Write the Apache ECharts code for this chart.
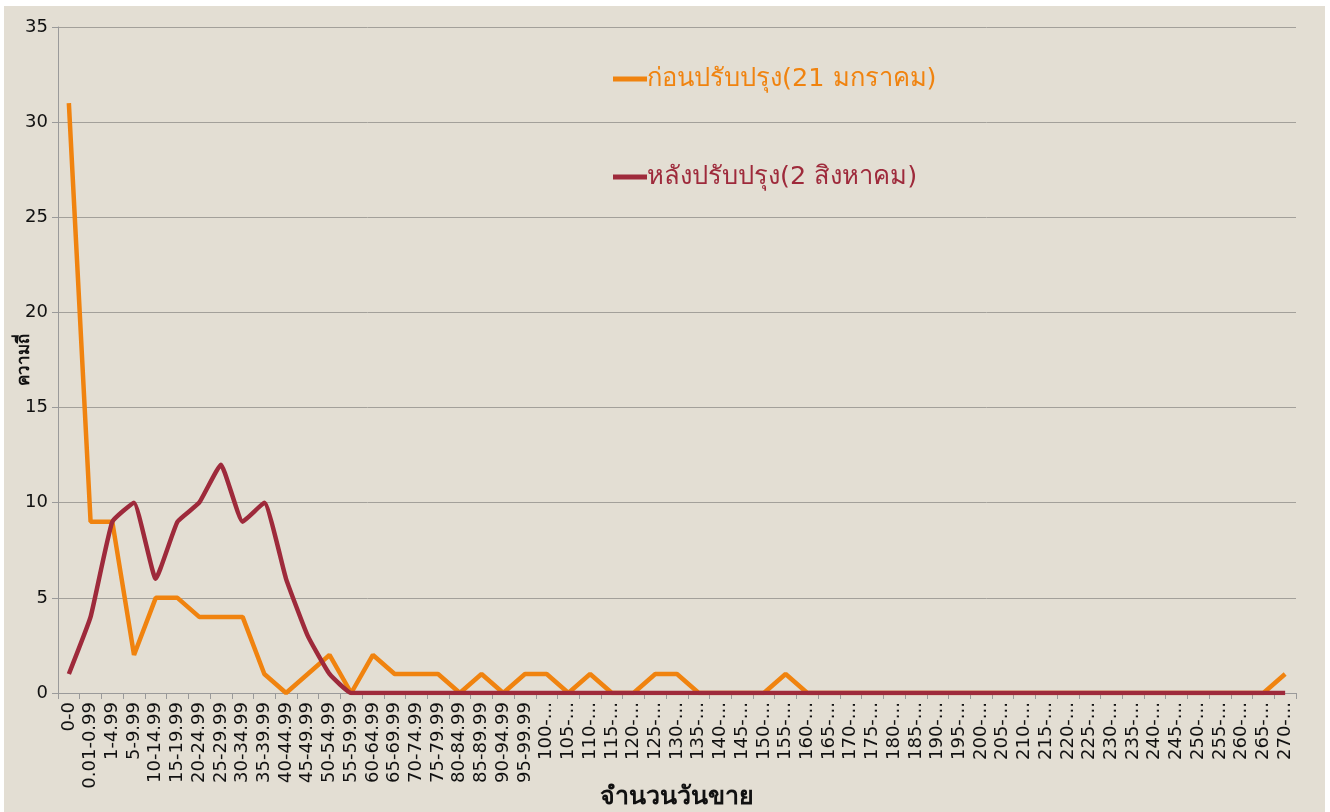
<!DOCTYPE html>
<html>
<head>
<meta charset="utf-8">
<script src="https://cdn.jsdelivr.net/npm/echarts@6/dist/echarts.min.js"></script>
<style>
	html, body { margin: 0; padding: 0; background: #fff; }
	#chart { position: absolute; left: 4px; top: 6px; width: 1321px; height: 806px; background: #e3ded3; }
</style>
</head>
<body>
<div id="chart"></div>
<script>
var categories = ['0-0', '0.01-0.99', '1-4.99', '5-9.99', '10-14.99', '15-19.99', '20-24.99', '25-29.99',
	'30-34.99', '35-39.99', '40-44.99', '45-49.99', '50-54.99', '55-59.99', '60-64.99', '65-69.99',
	'70-74.99', '75-79.99', '80-84.99', '85-89.99', '90-94.99', '95-99.99', '100-...', '105-...',
	'110-...', '115-...', '120-...', '125-...', '130-...', '135-...', '140-...', '145-...', '150-...',
	'155-...', '160-...', '165-...', '170-...', '175-...', '180-...', '185-...', '190-...', '195-...',
	'200-...', '205-...', '210-...', '215-...', '220-...', '225-...', '230-...', '235-...', '240-...',
	'245-...', '250-...', '255-...', '260-...', '265-...', '270-...'];

var beforeName = 'ก่อนปรับปรุง(21 มกราคม)';
var afterName = 'หลังปรับปรุง(2 สิงหาคม)';

var beforeValues = [31, 9, 9, 2, 5, 5, 4, 4, 4, 1, 0, 1, 2, 0, 2, 1, 1, 1, 0, 1, 0, 1, 1, 0,
	1, 0, 0, 1, 1, 0, 0, 0, 0, 1, 0, 0, 0, 0, 0, 0, 0, 0, 0, 0, 0, 0, 0, 0, 0, 0, 0, 0, 0, 0, 0, 0, 1];
var afterValues = [1, 4, 9, 10, 6, 9, 10, 12, 9, 10, 6, 3, 1, 0, 0, 0, 0, 0, 0, 0, 0, 0, 0, 0,
	0, 0, 0, 0, 0, 0, 0, 0, 0, 0, 0, 0, 0, 0, 0, 0, 0, 0, 0, 0, 0, 0, 0, 0, 0, 0, 0, 0, 0, 0, 0, 0, 0];

var yTicks = { min: 0, max: 35, interval: 5 };

var font = 'Tahoma, "DejaVu Sans", "Noto Sans", sans-serif';
var orange = '#f0830f';
var darkRed = '#9e2a3b';

var myChart = echarts.init(document.getElementById('chart'));

var option = {
	textStyle: { fontFamily: font },
	legend: [
		{
			left: 604,
			top: 55,
			itemWidth: 34,
			itemHeight: 5,
			icon: 'rect',
			textStyle: { fontSize: 25.5, color: orange, fontFamily: font, padding: [0, 0, 0, -5] },
			data: [{ name: beforeName }]
		},
		{
			left: 604,
			top: 153,
			itemWidth: 34,
			itemHeight: 5,
			icon: 'rect',
			textStyle: { fontSize: 25.5, color: darkRed, fontFamily: font, padding: [0, 0, 0, -5] },
			data: [{ name: afterName }]
		}
	],
	grid: {
		left: 54,
		right: 29,
		top: 21,
		bottom: 119,
		containLabel: false,
		outerBoundsMode: 'none'
	},
	xAxis: {
		type: 'category',
		data: categories,
		boundaryGap: true,
		name: 'จำนวนวันขาย',
		nameLocation: 'middle',
		nameGap: 92,
		nameMoveOverlap: false,
		nameTextStyle: { fontSize: 25, fontWeight: 'bold', color: '#111', fontFamily: font },
		axisLine: { lineStyle: { color: '#9a9a9a', width: 1 } },
		axisTick: { show: true, length: 6, lineStyle: { color: '#9a9a9a' } },
		axisLabel: {
			interval: 0,
			rotate: 90,
			fontSize: 18,
			color: '#111',
			margin: 9
		},
		splitLine: { show: false }
	},
	yAxis: {
		type: 'value',
		min: yTicks.min,
		max: yTicks.max,
		interval: yTicks.interval,
		name: 'ความถี่',
		nameLocation: 'middle',
		nameGap: 25,
		nameRotate: 90,
		nameMoveOverlap: false,
		nameTextStyle: { fontSize: 17, fontWeight: 'bold', color: '#111', fontFamily: font },
		axisLine: { show: true, lineStyle: { color: '#9a9a9a', width: 1 } },
		axisTick: { show: true, length: 6, lineStyle: { color: '#9a9a9a' } },
		axisLabel: { fontSize: 18, color: '#111', margin: 10 },
		splitLine: { lineStyle: { color: '#a3a09a', width: 1 } }
	},
	series: [
		{
			name: beforeName,
			type: 'line',
			data: beforeValues,
			symbol: 'none',
			lineStyle: { color: orange, width: 4.5 },
			itemStyle: { color: orange },
			z: 2
		},
		{
			name: afterName,
			type: 'line',
			data: afterValues,
			symbol: 'none',
			smooth: 0.12,
			lineStyle: { color: darkRed, width: 4.5 },
			itemStyle: { color: darkRed },
			z: 3
		}
	]
};

if (option && typeof option === "object") {
	myChart.setOption(option, true);
}
</script>
</body>
</html>
